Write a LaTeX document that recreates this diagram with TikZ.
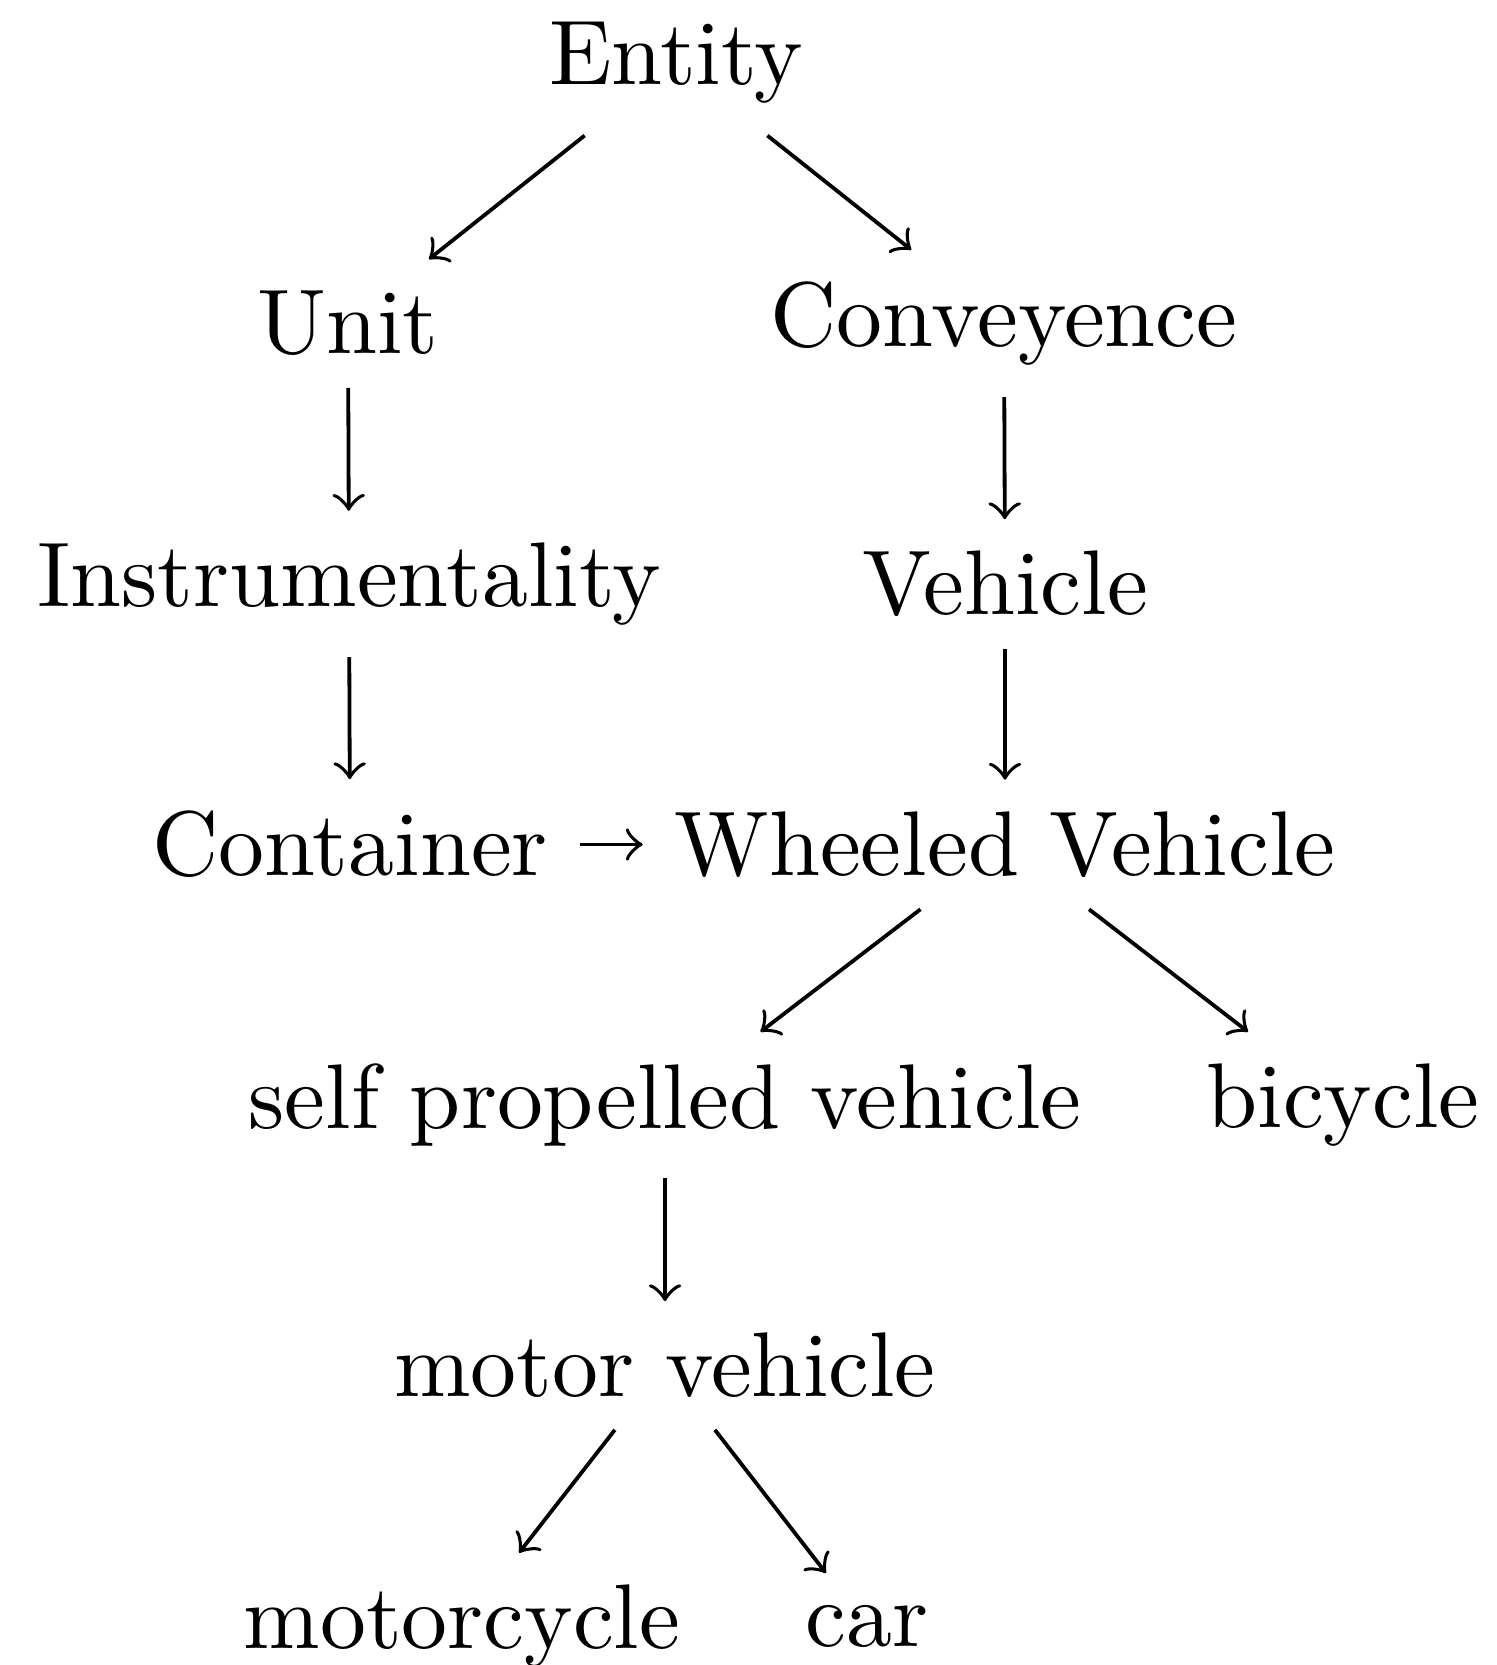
\documentclass[tikz,border=0pt]{standalone}
\begin{document}
\begin{tikzpicture}[x=0.1105pt,y=-0.1105pt,
  lbl/.style={inner sep=3.33pt,font=\fontsize{10.15pt}{12pt}\selectfont},
  arr/.style={->,line width=0.42pt}]
\useasboundingbox (0,0) rectangle (1496,1665);
\node[lbl] (E) at (676,63) {Entity};
\node[lbl] (U) at (348,323.5) {Unit};
\node[lbl] (C) at (1004,323.5) {Conveyence};
\node[lbl] (I) at (349,584) {Instrumentality};
\node[lbl] (V) at (1005,584) {Vehicle};
\node[lbl] (Co) at (350,844.5) {Container};
\node[lbl] (W) at (1005,844.5) {Wheeled Vehicle};
\node[lbl] (S) at (665,1105) {self propelled vehicle};
\node[lbl] (B) at (1343,1105) {bicycle};
\node[lbl] (M) at (665,1365.5) {motor vehicle};
\node[lbl] (Mc) at (462,1626) {motorcycle};
\node[lbl] (Car) at (867,1626) {car};
\draw[arr] (E) -- (U);
\draw[arr] (E) -- (C);
\draw[arr] (U) -- (I);
\draw[arr] (C) -- (V);
\draw[arr] (I) -- (Co);
\draw[arr] (V) -- (W);
\draw[arr] (Co) -- (W);
\draw[arr] (W) -- (S);
\draw[arr] (W) -- (B);
\draw[arr] (S) -- (M);
\draw[arr] (M) -- (Mc);
\draw[arr] (M) -- (Car);
\end{tikzpicture}
\end{document}
